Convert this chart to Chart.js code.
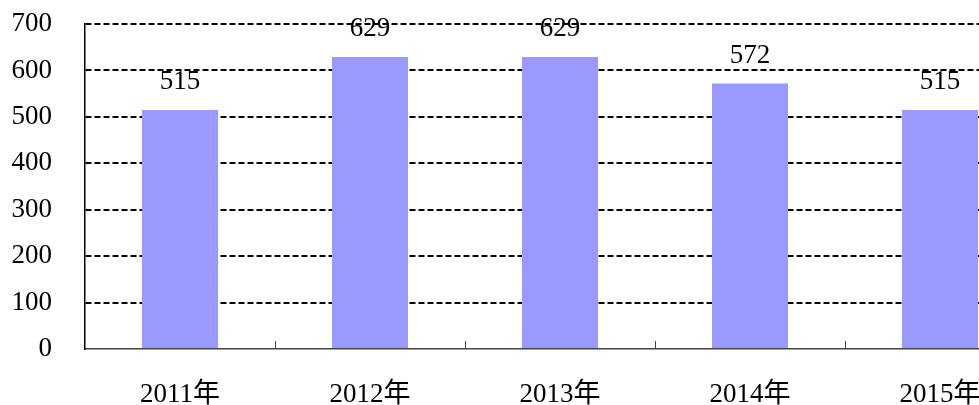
<!DOCTYPE html>
<html>
<head>
<meta charset="utf-8">
<script src="https://cdn.jsdelivr.net/npm/chart.js@4"></script>
<style>
  html, body { margin: 0; padding: 0; background: #fff; overflow: hidden; }
  #wrap { width: 1035px; height: 405px; }
</style>
</head>
<body>
<div id="wrap"><canvas id="myChart"></canvas></div>
<script>
let years = ['2011年', '2012年', '2013年', '2014年', '2015年'];
let values = [515, 629, 629, 572, 515];
let yTicks = [0, 100, 200, 300, 400, 500, 600, 700];

const serif = '"Liberation Serif", "Noto Sans CJK SC", serif';

// value labels over the bars
const barLabels = {
    id: 'barLabels',
    afterDatasetsDraw(chart) {
        let c = chart.ctx;
        let meta = chart.getDatasetMeta(0);
        c.save();
        c.font = '27px ' + serif;
        c.fillStyle = '#000';
        c.textAlign = 'center';
        c.textBaseline = 'middle';
        meta.data.forEach((bar, i) => {
            c.fillText(values[i], bar.x, bar.y - 28);
        });
        c.restore();
    }
};

// small inward ticks between categories on the x axis
const innerTicks = {
    id: 'innerTicks',
    afterDraw(chart) {
        let c = chart.ctx;
        let x = chart.scales.x;
        let half = (x.getPixelForTick(1) - x.getPixelForTick(0)) / 2;
        c.save();
        c.strokeStyle = '#444';
        c.lineWidth = 1;
        for (let i = 0; i < years.length; i++) {
            let px = Math.round(x.getPixelForTick(i) + half) + 0.5;
            c.beginPath();
            c.moveTo(px, x.top);
            c.lineTo(px, x.top - 8);
            c.stroke();
        }
        c.restore();
    }
};

let ctx = document.getElementById('myChart').getContext('2d');
let chart = new Chart(ctx, {
    type: 'bar',
    data: {
        labels: years,
        datasets: [{
            data: values,
            backgroundColor: '#9999FF',
            barPercentage: 0.4,
            categoryPercentage: 1
        }]
    },
    options: {
        responsive: true,
        maintainAspectRatio: false,
        animation: false,
        layout: { padding: { top: 24, right: 0, left: 0, bottom: 0 } },
        plugins: { legend: { display: false }, tooltip: { enabled: false } },
        scales: {
            x: {
                afterFit(s) { s.height = 56; },
                grid: { display: false, drawTicks: false },
                border: { color: '#444', width: 1.5 },
                ticks: { color: '#000', padding: 30, font: { family: serif, size: 27 } }
            },
            y: {
                min: 0,
                max: 700,
                afterFit(s) {
                    s.width = 85;
                    s.paddingTop = 0;
                    s.paddingBottom = 0;
                },
                afterBuildTicks(s) { s.ticks = yTicks.map(v => ({ value: v })); },
                grid: {
                    color: (c) => c.tick && c.tick.value === 0 ? 'rgba(0,0,0,0)' : '#000',
                    lineWidth: 2,
                    drawTicks: false
                },
                border: { color: '#000', width: 1.5, dash: [6, 3] },
                ticks: { color: '#000', padding: 33, font: { family: serif, size: 27 } }
            }
        }
    },
    plugins: [barLabels, innerTicks]
});
</script>
</body>
</html>
